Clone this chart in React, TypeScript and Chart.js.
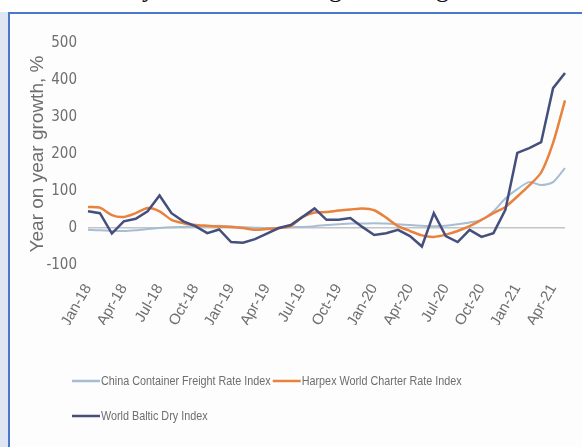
import { useEffect, useRef } from 'react';
import { Chart, registerables } from 'chart.js';

Chart.register(...registerables);

const months = [
  'Jan-18', 'Feb-18', 'Mar-18', 'Apr-18', 'May-18', 'Jun-18', 'Jul-18', 'Aug-18', 'Sep-18', 'Oct-18', 'Nov-18', 'Dec-18',
  'Jan-19', 'Feb-19', 'Mar-19', 'Apr-19', 'May-19', 'Jun-19', 'Jul-19', 'Aug-19', 'Sep-19', 'Oct-19', 'Nov-19', 'Dec-19',
  'Jan-20', 'Feb-20', 'Mar-20', 'Apr-20', 'May-20', 'Jun-20', 'Jul-20', 'Aug-20', 'Sep-20', 'Oct-20', 'Nov-20', 'Dec-20',
  'Jan-21', 'Feb-21', 'Mar-21', 'Apr-21', 'May-21',
];

const chinaContainer = [
  -5, -6, -8, -8, -6, -3, 0, 2, 3, 5, 5, 6,
  4, 2, 1, 0, 0, 2, 3, 5, 8, 10, 12, 12,
  13, 12, 10, 8, 6, 5, 6, 10, 15, 22, 45, 80,
  105, 124, 116, 124, 162,
];

const harpex = [
  57, 55, 35, 30, 40, 54, 45, 22, 13, 8, 6, 4,
  3, 0, -5, -3, 0, 5, 30, 42, 43, 47, 50, 53,
  48, 28, 5, -8, -20, -24, -18, -8, 5, 22, 40, 57,
  85, 115, 150, 230, 345,
];

const balticDry = [
  45, 40, -15, 18, 25, 45, 88, 40, 18, 5, -14, -4,
  -38, -40, -30, -15, 0, 8, 30, 53, 22, 22, 27, 3,
  -19, -14, -5, -22, -50, 40, -22, -38, -5, -24, -14, 49,
  203, 216, 232, 378, 419,
];

const seriesNames = [
  'China Container Freight Rate Index',
  'Harpex World Charter Rate Index',
  'World Baltic Dry Index',
];

const yAxisTitle = 'Year on year growth, %';

const NARROW = "'Liberation Sans Narrow', 'DejaVu Sans Condensed', 'Liberation Sans', sans-serif";
const WIDE = "'Liberation Sans', Arial, sans-serif";
const TEXT = '#6e6e6e';

const legendPlugin = {
  id: 'excelLegend',
  afterDraw(chart: any) {
    const ctx = chart.ctx;
    const ds = chart.data.datasets;
    const rows = [[0, 1], [2]];
    const rowY = [367, 402];
    const startX = chart.chartArea.left - 16;
    const lineLen = 28;
    const squeeze = 0.83;
    ctx.save();
    ctx.font = `13px ${WIDE}`;
    ctx.textBaseline = 'middle';
    ctx.textAlign = 'left';
    rows.forEach((row, r) => {
      let x = startX;
      const y = rowY[r];
      row.forEach((di) => {
        const d = ds[di];
        ctx.strokeStyle = d.borderColor;
        ctx.lineWidth = 2.5;
        ctx.beginPath();
        ctx.moveTo(x, y);
        ctx.lineTo(x + lineLen, y);
        ctx.stroke();
        x += lineLen + 1;
        ctx.fillStyle = TEXT;
        ctx.save();
        ctx.translate(x, y);
        ctx.scale(squeeze, 1);
        ctx.fillText(d.label, 0, 0);
        ctx.restore();
        x += ctx.measureText(d.label).width * squeeze + 2;
      });
    });
    ctx.restore();
  },
};

export default function App() {
  const ref = useRef<HTMLCanvasElement | null>(null);

  useEffect(() => {
    if (!ref.current) return;
    const chart = new Chart(ref.current, {
      type: 'line',
      data: {
        labels: months,
        datasets: [
          {
            label: seriesNames[0],
            data: chinaContainer,
            borderColor: '#a7bdd3',
            backgroundColor: '#a7bdd3',
            borderWidth: 2,
            pointRadius: 0,
            tension: 0.25,
            order: 2,
          },
          {
            label: seriesNames[1],
            data: harpex,
            borderColor: '#e8823c',
            backgroundColor: '#e8823c',
            borderWidth: 2.5,
            pointRadius: 0,
            tension: 0.25,
            order: 1,
          },
          {
            label: seriesNames[2],
            data: balticDry,
            borderColor: '#454f7c',
            backgroundColor: '#454f7c',
            borderWidth: 2.5,
            pointRadius: 0,
            tension: 0,
            order: 0,
          },
        ],
      },
      options: {
        animation: false,
        responsive: true,
        maintainAspectRatio: false,
        layout: { padding: { left: 0, top: 29, right: 17, bottom: 122 } },
        plugins: {
          legend: { display: false },
          tooltip: { enabled: false },
        },
        scales: {
          x: {
            grid: { display: false, drawTicks: false },
            border: { display: false },
            afterFit: (s: any) => {
              s.height = 60;
              s.paddingLeft = 0;
              s.paddingRight = 0;
            },
            ticks: {
              autoSkip: false,
              minRotation: 60,
              maxRotation: 60,
              padding: 16,
              color: TEXT,
              font: { family: WIDE, size: 15 },
              callback: (_v: any, i: number) => (i % 3 === 0 ? months[i] : ''),
            },
          },
          y: {
            min: -100,
            max: 500,
            border: { display: false },
            afterFit: (s: any) => { s.width = 78; },
            grid: {
              drawTicks: false,
              lineWidth: 1.5,
              color: (c: any) => (c.tick && c.tick.value === 0 ? '#c4c4c4' : 'rgba(0,0,0,0)'),
            },
            ticks: {
              stepSize: 100,
              padding: 11,
              color: TEXT,
              font: { family: NARROW, size: 15 },
            },
            title: {
              display: true,
              text: yAxisTitle,
              color: TEXT,
              font: { family: WIDE, size: 19, weight: 'normal' },
              padding: { top: 16, bottom: 0 },
            },
          },
        },
      },
      plugins: [legendPlugin],
    });
    return () => chart.destroy();
  }, []);

  return (
    <div style={{ position: 'fixed', left: 0, top: 0, width: 582, height: 447, background: '#ffffff', overflow: 'hidden' }}>
      <div style={{ position: 'absolute', left: 0, top: 12, width: 8, height: 435, background: '#dde6f2' }} />
      <div style={{ position: 'absolute', left: 0, top: -26, width: 582, height: 38, overflow: 'hidden', fontFamily: "'Liberation Serif', serif", fontSize: 26, color: '#111' }}>
        <span style={{ position: 'absolute', left: 142, top: 0 }}>y</span>
        <span style={{ position: 'absolute', left: 329, top: 0 }}>g</span>
        <span style={{ position: 'absolute', left: 436, top: 0 }}>g</span>
      </div>
      <div style={{ position: 'absolute', left: 8, top: 12, width: 574, height: 435, borderLeft: '2px solid #4a78c8', borderTop: '2px solid #4a78c8', background: '#fdfdfd' }} />
      <div style={{ position: 'absolute', left: 10, top: 14, width: 572, height: 433 }}>
        <canvas ref={ref} />
      </div>
    </div>
  );
}
